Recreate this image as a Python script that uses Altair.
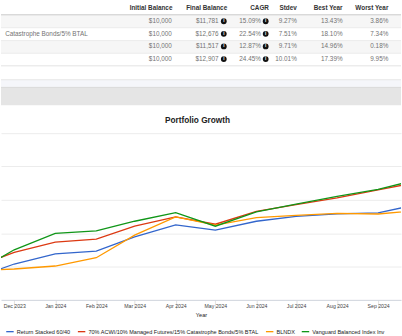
import altair as alt
import pandas as pd

FONT = "Liberation Sans"

# ---------------- data ----------------
series_names = [
    "Return Stacked 60/40",
    "70% ACWI/10% Managed Futures/15% Catastrophe Bonds/5% BTAL",
    "BLNDX",
    "Vanguard Balanced Index Inv",
]
colors = ["#3366cc", "#dc3912", "#ff9900", "#109618"]
# part of each row name that is visible in the cropped table
visible_row_names = ["", "Catastrophe Bonds/5% BTAL", "", ""]

dates = ["2023-11-01", "2023-12-01", "2024-01-01", "2024-02-01", "2024-03-01", "2024-04-01",
         "2024-05-01", "2024-06-01", "2024-07-01", "2024-08-01", "2024-09-01", "2024-10-01"]
return_stacked = [9645, 10075, 10382, 10463, 10890, 11248, 11090, 11358, 11507, 11576, 11606, 11866]
acwi_mix = [9976, 10424, 10731, 10821, 11209, 11487, 11269, 11657, 11857, 12060, 12299, 12531]
blndx = [9881, 9925, 10015, 10263, 10940, 11487, 11239, 11469, 11537, 11597, 11576, 11681]
vanguard = [9821, 10501, 10991, 11069, 11358, 11618, 11209, 11636, 11875, 12104, 12313, 12609]

headers = ["Initial Balance", "Final Balance", "CAGR", "Stdev", "Best Year", "Worst Year"]
initial_balance = ["$10,000", "$10,000", "$10,000", "$10,000"]
final_balance = ["$11,781", "$12,676", "$11,517", "$12,907"]
cagr = ["15.09%", "22.54%", "12.87%", "24.45%"]
stdev = ["9.27%", "7.51%", "9.71%", "10.01%"]
best_year = ["13.43%", "18.10%", "14.96%", "17.39%"]
worst_year = ["3.86%", "7.34%", "0.18%", "9.95%"]

chart_title = "Portfolio Growth"
month_ticks = [(2023, 12), (2024, 1), (2024, 2), (2024, 3), (2024, 4), (2024, 5),
               (2024, 6), (2024, 7), (2024, 8), (2024, 9)]

# ---------------- table ----------------
table = pd.DataFrame({
    "name": series_names,
    "label": visible_row_names,
    "initial": initial_balance,
    "final": final_balance,
    "cagr": cagr,
    "stdev": stdev,
    "best": best_year,
    "worst": worst_year,
})

W = 402
TOP_H = 132.5
LINE_H = 167.5

row_y = alt.Y("name:N", sort=series_names,
              scale=alt.Scale(type="point", range=[20.5, 58.5], padding=0), axis=None)

base = alt.Chart(table)
one = alt.Chart(pd.DataFrame({"k": [0]}))

def hrule(y, color, width=1.0):
    return one.mark_rule(color=color, strokeWidth=width).encode(
        x=alt.value(0), x2=alt.value(W), y=alt.value(y))

def band(y1, y2, color):
    return one.mark_rect(color=color).encode(
        x=alt.value(0), x2=alt.value(W), y=alt.value(y1), y2=alt.value(y2))

layers = [
    band(14.5, 27, "#f6f6f6"),
    band(40, 52.7, "#f6f6f6"),
    hrule(14, "#d9d9d9", 1.6),
    hrule(27, "#ebebeb"),
    hrule(40, "#ebebeb"),
    hrule(52.7, "#ebebeb"),
    hrule(65.3, "#e3e3e3"),
    band(79.5, 87, "#f5f6fa"),
    hrule(79.3, "#e6e6e6"),
    hrule(87, "#d8d8d8"),
    band(87.5, 105, "#e5e5e5"),
]

header_right = [172.3, 227.3, 269.3, 297.3, 343.3, 389.3]
for h, xr in zip(headers, header_right):
    layers.append(one.mark_text(align="right", baseline="middle", font=FONT, fontSize=6.4,
                                fontWeight="bold", color="#333333").encode(
        x=alt.value(xr), y=alt.value(6.8), text=alt.value(h)))

value_cols = [("initial", 171.7), ("final", 218.6), ("cagr", 261.2),
              ("stdev", 297.3), ("best", 343.3), ("worst", 389.3)]
for col, xr in value_cols:
    layers.append(base.mark_text(align="right", baseline="middle", font=FONT, fontSize=6.4,
                                 color="#737373").encode(
        x=alt.value(xr), y=row_y, text=alt.Text(f"{col}:N")))

# visible part of the row names
layers.append(base.transform_filter("datum.label != ''").mark_text(
    align="left", baseline="middle", font=FONT, fontSize=6.4, color="#737373").encode(
    x=alt.value(4.2), y=row_y, text=alt.Text("label:N")))

# info icons
for xc in (223.9, 266.0):
    layers.append(base.mark_point(filled=True, shape="circle", size=34, color="#111111",
                                  opacity=1).encode(x=alt.value(xc), y=row_y))
    layers.append(base.mark_text(align="center", baseline="middle", font=FONT, fontSize=4.6,
                                 fontWeight="bold", color="white").encode(
        x=alt.value(xc), y=row_y, text=alt.value("i")))

layers.append(one.mark_text(align="center", baseline="middle", font=FONT, fontSize=8.3,
                            fontWeight="bold", color="#222222").encode(
    x=alt.value(197.5), y=alt.value(120.3), text=alt.value(chart_title)))

top = alt.layer(*layers).properties(width=W, height=TOP_H)

# ---------------- line chart ----------------
rows = []
for name, vals in zip(series_names, [return_stacked, acwi_mix, blndx, vanguard]):
    for d, v in zip(dates, vals):
        rows.append({"date": d, "balance": v, "series": name})
df = pd.DataFrame(rows)

x_axis = alt.Axis(
    values=[alt.DateTime(year=y, month=m, date=1, utc=True) for y, m in month_ticks],
    format="%b %Y", labelFont=FONT, labelFontSize=5.2, labelColor="#444444",
    tickSize=9, tickColor="#e2e2e2", labelPadding=-5, domainColor="#cfd3dc",
    grid=False, title="Year", titleFont=FONT, titleFontSize=5.6, titleFontWeight="normal",
    titleColor="#222222", titlePadding=3, labelOverlap=False, labelFlush=False,
)

lines = alt.Chart(df).mark_line(clip=True, strokeWidth=1.3).encode(
    x=alt.X("date:T", axis=x_axis,
            scale=alt.Scale(type="utc", domain=[
                alt.DateTime(year=2023, month=11, date=21, utc=True),
                alt.DateTime(year=2024, month=9, date=18, hours=7, utc=True)])),
    y=alt.Y("balance:Q", scale=alt.Scale(domain=[9000, 14000], nice=False, zero=False),
            axis=alt.Axis(values=[10000, 11000, 12000, 13000, 14000], labels=False,
                          ticks=False, domain=False, title=None, gridColor="#ececec")),
    color=alt.Color("series:N", scale=alt.Scale(domain=series_names, range=colors),
                    legend=alt.Legend(orient="none", legendX=4.5, legendY=327.5,
                                      direction="horizontal", title=None,
                                      symbolType="stroke", symbolSize=56,
                                      symbolStrokeWidth=1.3, labelFont=FONT,
                                      labelFontSize=5.55, labelColor="#222222",
                                      labelOffset=2.4, columnPadding=4, padding=0,
                                      labelLimit=400)),
).properties(width=W, height=LINE_H)

chart = alt.vconcat(top, lines, spacing=0).properties(
    padding=0, background="white"
).configure_view(stroke=None)

chart.save("out.html", embed_options={"renderer": "svg", "actions": False})
